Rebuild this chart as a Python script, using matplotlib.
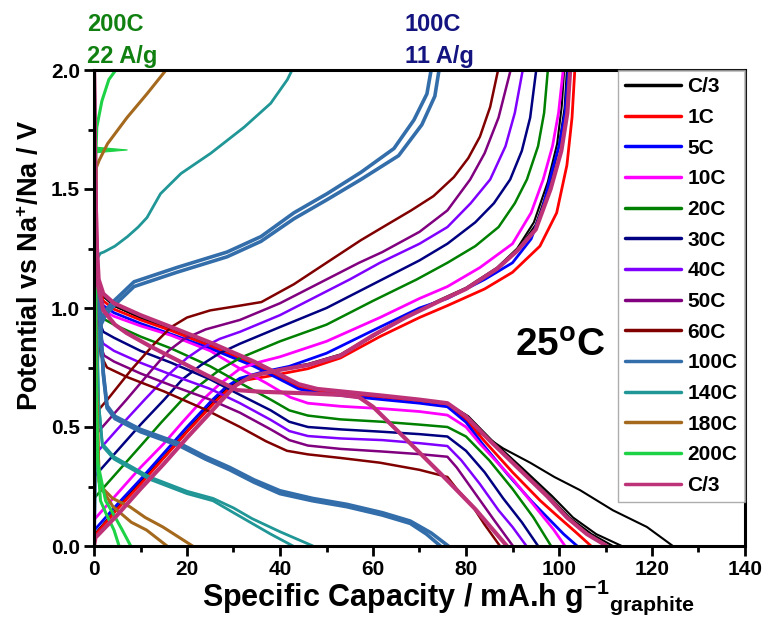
import matplotlib
matplotlib.use("Agg")
import matplotlib.pyplot as plt
from matplotlib.ticker import MultipleLocator, FormatStrFormatter

plt.rcParams['font.family'] = ['Liberation Sans', 'DejaVu Sans']
plt.rcParams['font.weight'] = 'bold'
plt.rcParams['mathtext.fontset'] = 'custom'
plt.rcParams['mathtext.rm'] = 'Liberation Sans:bold'
plt.rcParams['mathtext.bf'] = 'Liberation Sans:bold'
plt.rcParams['mathtext.it'] = 'Liberation Sans:bold'
plt.rcParams['mathtext.default'] = 'bf'

# ---------------- rate labels and colours ----------------
rates = ['C/3', '1C', '5C', '10C', '20C', '30C', '40C', '50C', '60C',
         '100C', '140C', '180C', '200C', 'C/3']
colors = ['#000000', '#FF0000', '#0000FF', '#FF00FF', '#008000', '#000080',
          '#8000FF', '#800080', '#800000', '#336EAA', '#209696', '#A5691E',
          '#1ED246', '#BE3278']

# ---------------- sodiation (discharge) curves: capacity / potential ----------------
c3_dis1_q = [0, 0.2, 0.5, 1, 2, 4.3, 10, 16.6, 25, 34.4, 40, 44, 48, 53, 62, 70, 76, 80, 83, 88, 93.8, 99, 104.5, 111.6, 118.9, 124.5]
c3_dis1_v = [2.0, 1.7, 1.3, 1.11, 1.05, 1.01, 0.96, 0.91, 0.845, 0.77, 0.715, 0.675, 0.655, 0.645, 0.628, 0.612, 0.598, 0.55, 0.475, 0.41, 0.35, 0.29, 0.235, 0.15, 0.08, 0.0]
c3_dis2_q = [0, 0.2, 0.5, 1, 2, 4.3, 10, 16.6, 25, 34.4, 40, 44, 48, 53, 62, 70, 76, 80.5, 85.5, 92.5, 98.5, 103, 108, 113.5]
c3_dis2_v = [2.0, 1.7, 1.3, 1.11, 1.05, 1.01, 0.96, 0.91, 0.845, 0.77, 0.715, 0.675, 0.655, 0.645, 0.628, 0.612, 0.598, 0.545, 0.445, 0.32, 0.21, 0.12, 0.05, 0.0]
c3_dis3_q = [0, 0.2, 0.5, 1, 2, 4.3, 10, 16.6, 25, 34.4, 40, 44, 48, 53, 62, 70, 76, 80.2, 85.2, 92, 97.8, 102.2, 107, 111.6]
c3_dis3_v = [2.0, 1.7, 1.3, 1.11, 1.05, 1.01, 0.96, 0.91, 0.845, 0.77, 0.715, 0.675, 0.655, 0.645, 0.628, 0.612, 0.598, 0.545, 0.445, 0.32, 0.21, 0.12, 0.05, 0.0]
r1_dis_q = [0, 0.2, 0.5, 1, 2, 4.3, 10, 16.6, 25, 34.4, 40, 44, 48, 53, 62, 70, 76, 80, 84, 90, 96, 100, 103.5, 106.9]
r1_dis_v = [2.0, 1.65, 1.25, 1.09, 1.03, 0.995, 0.95, 0.905, 0.84, 0.765, 0.71, 0.67, 0.652, 0.642, 0.625, 0.61, 0.595, 0.53, 0.44, 0.31, 0.19, 0.12, 0.06, 0.0]
r5_dis_q = [0, 0.2, 0.5, 1, 2, 4.3, 10, 16.6, 25, 34.4, 40, 44, 48, 53, 62, 70, 76, 80, 83.5, 89, 94, 98, 101, 103.9]
r5_dis_v = [2.0, 1.6, 1.2, 1.07, 1.01, 0.98, 0.935, 0.89, 0.83, 0.755, 0.70, 0.66, 0.643, 0.633, 0.615, 0.60, 0.585, 0.52, 0.43, 0.30, 0.19, 0.11, 0.05, 0.0]
r10_dis_q = [0, 0.2, 0.5, 1, 2, 4.3, 10, 16.6, 25, 31.4, 37, 42.2, 46, 53, 62, 70, 76, 80, 83, 90.1, 95.9, 98.8, 101.3]
r10_dis_v = [2.0, 1.5, 1.15, 1.04, 0.99, 0.965, 0.925, 0.885, 0.82, 0.745, 0.685, 0.625, 0.60, 0.587, 0.577, 0.565, 0.55, 0.50, 0.43, 0.28, 0.14, 0.07, 0.0]
r20_dis_q = [0, 0.2, 0.5, 1, 2, 4.3, 10, 16.6, 25, 31.4, 38, 42, 46, 53, 62, 70, 76, 80, 85, 90, 94.5, 98.3]
r20_dis_v = [2.0, 1.45, 1.10, 1.0, 0.955, 0.93, 0.88, 0.83, 0.755, 0.685, 0.615, 0.57, 0.548, 0.532, 0.522, 0.51, 0.50, 0.46, 0.36, 0.24, 0.12, 0.0]
r30_dis_q = [0, 0.2, 0.5, 1, 2, 4.3, 10, 16.6, 25, 31.4, 38, 42, 46, 53, 62, 70, 76, 80, 84, 88, 92, 95.5]
r30_dis_v = [2.0, 1.4, 1.05, 0.95, 0.90, 0.875, 0.82, 0.77, 0.70, 0.635, 0.57, 0.522, 0.50, 0.49, 0.48, 0.47, 0.46, 0.40, 0.31, 0.20, 0.10, 0.0]
r40_dis_q = [0, 0.2, 0.5, 1, 2, 4.3, 10, 16.6, 25, 31.4, 38, 42, 46, 53, 62, 70, 76, 79, 83, 87, 90, 93]
r40_dis_v = [2.0, 1.35, 1.0, 0.90, 0.85, 0.82, 0.77, 0.72, 0.66, 0.60, 0.53, 0.483, 0.462, 0.452, 0.445, 0.432, 0.42, 0.36, 0.26, 0.15, 0.08, 0.0]
r50_dis_q = [0, 0.2, 0.6, 1.2, 2.2, 4.3, 10, 16.6, 25, 31.4, 38, 42, 46, 53, 62, 70, 76, 78, 82, 86, 90.1]
r50_dis_v = [2.0, 1.3, 0.95, 0.85, 0.80, 0.775, 0.725, 0.675, 0.615, 0.56, 0.49, 0.445, 0.422, 0.408, 0.397, 0.386, 0.375, 0.33, 0.22, 0.11, 0.0]
r60_dis_q = [0, 0.2, 0.7, 1.5, 2.8, 7.1, 15, 24.3, 31.4, 37, 41.5, 46, 53, 61.5, 70, 76, 78, 81.5, 84, 87.3]
r60_dis_v = [2.0, 1.25, 0.90, 0.80, 0.75, 0.71, 0.65, 0.57, 0.50, 0.44, 0.40, 0.385, 0.37, 0.35, 0.32, 0.29, 0.24, 0.165, 0.09, 0.0]
r100_dis1_q = [0, 0.2, 0.6, 1.2, 2.0, 2.8, 4.5, 10, 18.5, 24, 29.2, 34.4, 40, 47, 54.4, 62, 68, 71.5, 74.5]
r100_dis1_v = [2.0, 1.6, 1.2, 1.0, 0.72, 0.58, 0.535, 0.48, 0.42, 0.365, 0.32, 0.268, 0.22, 0.19, 0.165, 0.13, 0.095, 0.05, 0.0]
r100_dis2_q = [0, 0.2, 0.6, 1.2, 2.0, 2.8, 4.5, 10, 18.5, 24, 29.2, 34.4, 40, 47, 54.4, 62, 68, 72.5, 76.2]
r100_dis2_v = [2.0, 1.6, 1.2, 1.0, 0.73, 0.59, 0.545, 0.49, 0.43, 0.375, 0.33, 0.278, 0.232, 0.20, 0.175, 0.14, 0.105, 0.055, 0.0]
r140_dis1_q = [0, 0.2, 0.5, 1.0, 1.8, 4.3, 12, 20, 25.6, 30, 34, 38, 42.8]
r140_dis1_v = [2.0, 1.6, 1.0, 0.6, 0.42, 0.365, 0.28, 0.22, 0.19, 0.14, 0.095, 0.05, 0.0]
r140_dis2_q = [0, 0.2, 0.5, 1.0, 1.8, 4.3, 12, 20, 25.6, 30, 34, 40, 47.1]
r140_dis2_v = [2.0, 1.6, 1.0, 0.6, 0.43, 0.375, 0.29, 0.23, 0.20, 0.16, 0.115, 0.06, 0.0]
r180_dis1_q = [0, 0.2, 0.5, 1.1, 2, 4.1, 8, 11.3, 15.7]
r180_dis1_v = [2.0, 1.4, 0.7, 0.27, 0.23, 0.165, 0.10, 0.067, 0.0]
r180_dis2_q = [0, 0.2, 0.5, 1.1, 2, 4, 7.7, 11, 14.8, 18, 21.2]
r180_dis2_v = [2.0, 1.4, 0.7, 0.27, 0.24, 0.20, 0.165, 0.12, 0.08, 0.04, 0.0]
r200_dis1_q = [0, 0.2, 0.4, 0.8, 1.4, 2.5, 4.3, 5.4]
r200_dis1_v = [2.0, 1.4, 0.7, 0.35, 0.19, 0.14, 0.067, 0.0]
r200_dis2_q = [0, 0.2, 0.4, 0.8, 2.5, 4, 6, 7.9]
r200_dis2_v = [2.0, 1.4, 0.7, 0.35, 0.19, 0.14, 0.07, 0.0]
c3b_dis1_q = [0, 0.2, 0.5, 1, 2, 4.3, 10, 16.6, 25, 34.4, 40, 44, 48, 53, 62, 70, 76, 80, 85, 91.6, 97.4, 101.7, 106, 110.3]
c3b_dis1_v = [2.0, 1.7, 1.3, 1.12, 1.06, 1.02, 0.97, 0.92, 0.855, 0.775, 0.72, 0.68, 0.66, 0.65, 0.632, 0.615, 0.60, 0.545, 0.445, 0.32, 0.21, 0.12, 0.05, 0.0]
c3b_dis2_q = [0, 0.3, 0.8, 2, 4.5, 7, 12, 18, 24, 30.8, 36, 45, 53, 57, 60, 67.3, 75, 82, 88.8]
c3b_dis2_v = [2.0, 1.5, 1.1, 0.99, 0.93, 0.895, 0.84, 0.78, 0.72, 0.655, 0.648, 0.642, 0.635, 0.625, 0.585, 0.445, 0.295, 0.155, 0.0]

# ---------------- desodiation (charge) curves: capacity / potential ----------------
c3_chg1_q = [0, 0.2, 5, 10, 15, 20, 26.4, 29.5, 33, 40, 46, 53, 60, 67, 74.4, 80, 86.7, 91, 95, 98, 100, 101.2, 101.7]
c3_chg1_v = [0.0, 0.05, 0.155, 0.265, 0.37, 0.48, 0.613, 0.67, 0.71, 0.74, 0.76, 0.80, 0.88, 0.96, 1.03, 1.08, 1.165, 1.24, 1.35, 1.52, 1.68, 1.84, 2.0]
c3_chg2_q = [0, 0.2, 5, 10, 15, 20, 26.0, 29.0, 32.5, 40, 46, 53, 60, 67, 74.4, 80, 86.7, 91, 94.6, 97.6, 99.6, 100.6, 101.1]
c3_chg2_v = [0.0, 0.05, 0.16, 0.27, 0.375, 0.485, 0.613, 0.67, 0.71, 0.745, 0.765, 0.805, 0.885, 0.965, 1.035, 1.085, 1.17, 1.25, 1.36, 1.53, 1.69, 1.85, 2.0]
r1_chg_q = [0, 0.2, 5, 10, 15, 20, 26, 29, 32, 38, 46, 53, 61.5, 70, 76, 84, 90, 95.9, 99.5, 101.7, 102.8, 103.4]
r1_chg_v = [0.0, 0.045, 0.155, 0.26, 0.37, 0.48, 0.605, 0.66, 0.695, 0.715, 0.745, 0.79, 0.88, 0.96, 1.01, 1.08, 1.15, 1.26, 1.40, 1.60, 1.80, 2.0]
r5_chg_q = [0, 5, 10, 15, 20, 25.4, 28.5, 31.4, 36, 42, 50, 61.5, 70, 76, 84, 90, 94, 96.5, 98, 100, 101.3, 102]
r5_chg_v = [0.065, 0.175, 0.28, 0.39, 0.50, 0.613, 0.67, 0.705, 0.73, 0.755, 0.81, 0.92, 1.00, 1.04, 1.12, 1.19, 1.29, 1.42, 1.54, 1.68, 1.82, 2.0]
r10_chg_q = [0, 0, 5, 10, 15, 19, 23.3, 27, 31.4, 35, 40, 50, 61.5, 70, 76, 83, 90, 94, 96.6, 98.6, 99.9, 100.9]
r10_chg_v = [0.0, 0.11, 0.22, 0.33, 0.43, 0.52, 0.613, 0.68, 0.745, 0.77, 0.795, 0.86, 0.96, 1.04, 1.09, 1.17, 1.27, 1.40, 1.54, 1.68, 1.82, 2.0]
r20_chg_q = [0, 0, 5, 10, 14.5, 18.9, 23, 27, 31.4, 40, 50, 60, 69.4, 76, 82, 87, 90.5, 93.1, 95.5, 96.8, 97.6]
r20_chg_v = [0.0, 0.20, 0.31, 0.42, 0.52, 0.613, 0.68, 0.74, 0.79, 0.86, 0.93, 1.03, 1.12, 1.19, 1.26, 1.34, 1.44, 1.54, 1.68, 1.82, 2.0]
r30_chg_q = [0, 0, 5, 10, 15, 19, 23, 27, 31.4, 40, 50, 62, 70, 76, 82, 86, 89.5, 92, 93.8, 95.1]
r30_chg_v = [0.0, 0.29, 0.40, 0.51, 0.613, 0.70, 0.76, 0.81, 0.85, 0.92, 1.00, 1.12, 1.20, 1.27, 1.36, 1.44, 1.54, 1.66, 1.80, 2.0]
r40_chg_q = [0, 0, 5, 10.8, 16, 20, 23, 27, 31.4, 40, 48, 55, 61.5, 70, 76, 81, 85.2, 88.5, 90.5, 92.2]
r40_chg_v = [0.0, 0.38, 0.49, 0.613, 0.72, 0.79, 0.83, 0.87, 0.90, 0.97, 1.05, 1.12, 1.19, 1.27, 1.34, 1.44, 1.54, 1.68, 1.82, 2.0]
r50_chg_q = [0, 0, 6.9, 12, 16, 19.4, 24, 31.4, 40, 50, 57, 62, 70, 76, 80.9, 84, 87, 89.6]
r50_chg_v = [0.0, 0.46, 0.613, 0.73, 0.82, 0.87, 0.91, 0.95, 1.02, 1.12, 1.19, 1.235, 1.32, 1.41, 1.54, 1.65, 1.80, 2.0]
r60_chg_q = [0, 0, 2.8, 8, 13, 16.6, 20, 25, 31.4, 36, 43, 50, 57.4, 63, 68.2, 73, 77.4, 80.5, 83, 85.2, 86.9]
r60_chg_v = [0.0, 0.55, 0.613, 0.74, 0.85, 0.92, 0.96, 0.99, 1.01, 1.025, 1.10, 1.19, 1.285, 1.35, 1.41, 1.47, 1.55, 1.63, 1.72, 1.845, 2.0]
r100_chg1_q = [0, 0.3, 0.8, 1.5, 2.5, 4.3, 8.6, 17.8, 28.6, 35.9, 43, 50.1, 57.4, 64.5, 68.8, 71.6, 72.5]
r100_chg1_v = [0.0, 0.5, 0.85, 0.95, 0.99, 1.03, 1.11, 1.17, 1.235, 1.30, 1.40, 1.48, 1.57, 1.67, 1.79, 1.90, 2.0]
r100_chg2_q = [0, 0.3, 0.8, 1.5, 2.5, 4.3, 8.6, 17.8, 28.6, 35.9, 43, 50.1, 57.4, 65.5, 70.5, 73.3, 74.2]
r100_chg2_v = [0.0, 0.5, 0.83, 0.93, 0.97, 1.01, 1.09, 1.15, 1.215, 1.28, 1.375, 1.455, 1.54, 1.64, 1.77, 1.89, 2.0]
r140_chg_q = [0, 0.1, 0.4, 1.4, 2.1, 4.5, 7.2, 9.5, 11.4, 14.3, 18.7, 25.1, 32.3, 38, 41.6, 42.6]
r140_chg_v = [0.0, 0.9, 1.20, 1.23, 1.235, 1.26, 1.30, 1.34, 1.38, 1.48, 1.565, 1.65, 1.76, 1.86, 1.96, 2.0]
r180_chg_q = [0, 0.2, 0.5, 1.1, 2.9, 7.1, 11.4, 15.5]
r180_chg_v = [0.0, 1.0, 1.59, 1.62, 1.69, 1.80, 1.90, 2.0]
r200_chg_q = [0, 0.25, 0.3, 0.35, 0.6, 1.7, 3.2, 4.7]
r200_chg_v = [0.0, 0.6, 1.3, 1.62, 1.76, 1.87, 1.96, 2.0]
r200_spike_q = [0.2, 7.2, 0.2]
r200_spike_v = [1.676, 1.664, 1.652]
c3b_chg_q = [0, 0.3, 5, 10, 15, 20, 27.5, 30.5, 34, 40, 46, 53, 60, 67, 74.4, 80, 86.7, 91, 95, 98.2, 100.5, 101.8, 102.4]
c3b_chg_v = [0.0, 0.035, 0.13, 0.24, 0.345, 0.455, 0.613, 0.675, 0.715, 0.74, 0.76, 0.80, 0.885, 0.96, 1.03, 1.08, 1.165, 1.24, 1.33, 1.50, 1.66, 1.82, 2.0]

curves = [
    [(c3_dis1_q, c3_dis1_v), (c3_dis2_q, c3_dis2_v), (c3_dis3_q, c3_dis3_v),
     (c3_chg1_q, c3_chg1_v), (c3_chg2_q, c3_chg2_v)],
    [(r1_dis_q, r1_dis_v), (r1_chg_q, r1_chg_v)],
    [(r5_dis_q, r5_dis_v), (r5_chg_q, r5_chg_v)],
    [(r10_dis_q, r10_dis_v), (r10_chg_q, r10_chg_v)],
    [(r20_dis_q, r20_dis_v), (r20_chg_q, r20_chg_v)],
    [(r30_dis_q, r30_dis_v), (r30_chg_q, r30_chg_v)],
    [(r40_dis_q, r40_dis_v), (r40_chg_q, r40_chg_v)],
    [(r50_dis_q, r50_dis_v), (r50_chg_q, r50_chg_v)],
    [(r60_dis_q, r60_dis_v), (r60_chg_q, r60_chg_v)],
    [(r100_dis1_q, r100_dis1_v), (r100_dis2_q, r100_dis2_v),
     (r100_chg1_q, r100_chg1_v), (r100_chg2_q, r100_chg2_v)],
    [(r140_dis1_q, r140_dis1_v), (r140_dis2_q, r140_dis2_v), (r140_chg_q, r140_chg_v)],
    [(r180_dis1_q, r180_dis1_v), (r180_dis2_q, r180_dis2_v), (r180_chg_q, r180_chg_v)],
    [(r200_dis1_q, r200_dis1_v), (r200_dis2_q, r200_dis2_v), (r200_chg_q, r200_chg_v)],
    [(c3b_dis1_q, c3b_dis1_v), (c3b_dis2_q, c3b_dis2_v), (c3b_chg_q, c3b_chg_v)],
]
widths = [1.5, 2.0, 2.0, 2.0, 1.8, 1.8, 1.8, 1.8, 1.8, 2.6, 2.0, 2.2, 2.2, 3.0]

fig = plt.figure(figsize=(7.64, 6.19), dpi=100)
ax = fig.add_axes([94 / 764, 73 / 619, 651 / 764, 476 / 619])

for label, col, lw, group in zip(rates, colors, widths, curves):
    for k, (q, v) in enumerate(group):
        ax.plot(q, v, color=col, lw=lw, solid_joinstyle='round',
                solid_capstyle='round', label=label if k == 0 else None)
ax.fill(r200_spike_q, r200_spike_v, color=colors[12], lw=0.8, ec=colors[12])

ax.set_xlim(0, 140)
ax.set_ylim(0, 2.0)
ax.xaxis.set_major_locator(MultipleLocator(20))
ax.xaxis.set_minor_locator(MultipleLocator(10))
ax.yaxis.set_major_locator(MultipleLocator(0.5))
ax.yaxis.set_minor_locator(MultipleLocator(0.25))
ax.yaxis.set_major_formatter(FormatStrFormatter('%.1f'))
ax.tick_params(which='major', direction='out', length=7, width=2,
               labelsize=15, pad=3)
ax.tick_params(which='minor', direction='out', length=4, width=2)
for lab in ax.get_xticklabels() + ax.get_yticklabels():
    lab.set_fontweight('bold')
for sp in ax.spines.values():
    sp.set_linewidth(2.2)

leg = ax.legend(loc='upper right', bbox_to_anchor=(1.0, 1.0), borderaxespad=0,
                frameon=True, fancybox=False, edgecolor='#999999',
                handlelength=2.7, handletextpad=0.3, labelspacing=0.56,
                borderpad=0.35, prop={'weight': 'bold', 'size': 15})
leg.get_frame().set_linewidth(1.0)
for line in leg.get_lines():
    line.set_linewidth(2.5)

ax.text(90.5, 0.80, r'25$^{\mathbf{o}}$C', fontsize=28, fontweight='bold',
        ha='left', va='baseline')

fig.text(87 / 764, 1 - 31 / 619, '200C', color='#108010', fontsize=17,
         fontweight='bold', ha='left', va='baseline')
fig.text(87 / 764, 1 - 63 / 619, '22 A/g', color='#108010', fontsize=17,
         fontweight='bold', ha='left', va='baseline')
fig.text(405 / 764, 1 - 31 / 619, '100C', color='#141480', fontsize=17,
         fontweight='bold', ha='left', va='baseline')
fig.text(405 / 764, 1 - 63 / 619, '11 A/g', color='#141480', fontsize=17,
         fontweight='bold', ha='left', va='baseline')

fig.text(448 / 764, 1 - 606 / 619,
         r'Specific Capacity / mA.h g$^{\mathbf{-1}}$$_{\mathbf{graphite}}$',
         fontsize=22, fontweight='bold', ha='center', va='baseline')
fig.text(31 / 764, 1 - 265 / 619, r'Potential vs Na$^{\mathbf{+}}$/Na / V',
         fontsize=19.5, fontweight='bold', rotation=90, ha='center', va='center')

fig.savefig('out.png', dpi=100)
